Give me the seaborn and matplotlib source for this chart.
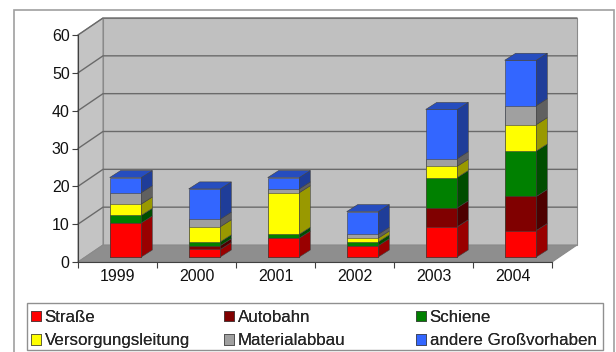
import numpy as np
import pandas as pd
import matplotlib
matplotlib.use("Agg")
import matplotlib.pyplot as plt
import seaborn as sns
from matplotlib.patches import Polygon, Patch, Rectangle
from matplotlib.colors import to_rgb

years = ['1999', '2000', '2001', '2002', '2003', '2004']
series_names = ['Straße', 'Autobahn', 'Schiene', 'Versorgungsleitung', 'Materialabbau', 'andere Großvorhaben']
strasse = [9, 2, 5, 3, 8, 7]
autobahn = [0, 1, 0, 0, 5, 9]
schiene = [2, 1, 1, 1, 8, 12]
versorgung = [3, 4, 11, 1, 3, 7]
material = [3, 2, 1, 1, 2, 5]
andere = [4, 8, 3, 6, 13, 12]
yticks = [0, 10, 20, 30, 40, 50, 60]

values = [strasse, autobahn, schiene, versorgung, material, andere]
colors = ['#ff0000', '#800000', '#008000', '#ffff00', '#a0a0a0', '#3366ff']

sns.set_theme(style='white')
plt.rcParams['font.family'] = ['Liberation Sans', 'DejaVu Sans']

W, H, DPI = 616, 352, 100
fig = plt.figure(figsize=(W / DPI, H / DPI), dpi=DPI)
ax_l, ax_r, ax_b, ax_t = 78, 552, 262, 35
ax = fig.add_axes([ax_l / W, (H - ax_b) / H, (ax_r - ax_l) / W, (ax_b - ax_t) / H])
ax.set_xlim(-0.5, 5.5)
ax.set_ylim(0, 60)
px_x = (ax_r - ax_l) / 6.0
px_y = (ax_b - ax_t) / 60.0

# outer chart frame
fig.patches.append(Rectangle((14 / W, -0.05), 600 / W, (H - 10) / H + 0.05, transform=fig.transFigure,
                             fill=False, edgecolor='#a0a0a0', linewidth=1.2))

# 3D walls
Dx, Dy = 25 / px_x, 17 / px_y
x0, x1 = -0.5, 5.5
back = Polygon([(x0 + Dx, Dy), (x1 + Dx, Dy), (x1 + Dx, 60 + Dy), (x0 + Dx, 60 + Dy)],
               closed=True, facecolor='#c0c0c0', edgecolor='#8a8a8a', linewidth=0.8, clip_on=False, zorder=0)
left = Polygon([(x0, 0), (x0 + Dx, Dy), (x0 + Dx, 60 + Dy), (x0, 60)],
               closed=True, facecolor='#c4c4c4', edgecolor='#8a8a8a', linewidth=0.8, clip_on=False, zorder=0)
floor = Polygon([(x0, 0), (x1, 0), (x1 + Dx, Dy), (x0 + Dx, Dy)],
                closed=True, facecolor='#8e8e8e', edgecolor='#8a8a8a', linewidth=0.8, clip_on=False, zorder=0.1)
for p in (back, left, floor):
    ax.add_patch(p)
for yv in yticks[1:]:
    ax.plot([x0, x0 + Dx, x1 + Dx], [yv, yv + Dy, yv + Dy], color='#6a6a6a', linewidth=1.0,
            clip_on=False, zorder=0.5)

# stacked bars (front faces), drawn top-down from cumulative sums
cums = np.cumsum(np.array(values), axis=0)
bw = 0.4
ox, oy = 8 / px_x, 5 / px_y
bx, by = 11 / px_x, 7 / px_y
for k in range(len(values) - 1, -1, -1):
    df = pd.DataFrame({'year': years, 'value': cums[k]})
    n_before = len(ax.patches)
    sns.barplot(data=df, x='year', y='value', color=colors[k], width=bw, ax=ax,
                saturation=1, edgecolor='#404040', linewidth=0.4, zorder=2)
    for p in ax.patches[n_before:]:
        p.set_x(p.get_x() + ox)
        p.set_y(p.get_y() + oy)

def shade(c, f):
    r, g, b = to_rgb(c)
    return (r * f, g * f, b * f)

# side and top faces
for i in range(len(years)):
    xl = i - bw / 2 + ox
    xr = i + bw / 2 + ox
    for k in range(len(values)):
        lo = (cums[k - 1][i] if k > 0 else 0) + oy
        hi = cums[k][i] + oy
        if hi - lo <= 0:
            continue
        side = Polygon([(xr, lo), (xr + bx, lo + by), (xr + bx, hi + by), (xr, hi)], closed=True,
                       facecolor=shade(colors[k], 0.6), edgecolor='#404040', linewidth=0.4,
                       clip_on=False, zorder=2)
        ax.add_patch(side)
    top_k = max(k for k in range(len(values)) if values[k][i] > 0)
    ht = cums[-1][i] + oy
    top = Polygon([(xl, ht), (xr, ht), (xr + bx, ht + by), (xl + bx, ht + by)], closed=True,
                  facecolor=shade(colors[top_k], 0.75), edgecolor='#404040', linewidth=0.4,
                  clip_on=False, zorder=2)
    ax.add_patch(top)

# axes styling
for s in ['top', 'right']:
    ax.spines[s].set_visible(False)
ax.spines['left'].set_color('#404040')
ax.spines['bottom'].set_color('#404040')
ax.spines['left'].set_linewidth(0.8)
ax.spines['bottom'].set_linewidth(0.8)
ax.set_yticks(yticks)
ax.set_yticklabels([str(v) for v in yticks])
ax.set_xticks(range(len(years)))
ax.set_xticklabels(years)
ax.set_xticks(np.arange(-0.5, 6.0, 1.0), minor=True)
ax.tick_params(axis='x', which='major', length=0, pad=5, labelsize=11.5, labelcolor='#111111')
ax.tick_params(axis='x', which='minor', length=4, color='#404040', width=0.8, bottom=True)
ax.tick_params(axis='y', length=4, color='#404040', width=0.8, left=True, labelsize=11.5,
               labelcolor='#111111', pad=2)
ax.set_xlabel('')
ax.set_ylabel('')
ax.set_facecolor('none')

# legend: frame plus three columns
fig.patches.append(Rectangle((27 / W, 1 - 350 / H), 576 / W, 47 / H, transform=fig.transFigure,
                             fill=False, edgecolor='#909090', linewidth=1.0))
handles = [Patch(facecolor=c, edgecolor='#404040', linewidth=0.5) for c in colors]
col_x = [31, 224, 416]
for c in range(3):
    idx = [c, c + 3]
    lg = fig.legend([handles[i] for i in idx], [series_names[i] for i in idx],
                    loc='upper left', bbox_to_anchor=(col_x[c] / W, 1 - 310 / H),
                    fontsize=12.2, frameon=False, handlelength=0.6, handleheight=0.6,
                    handletextpad=0.2, borderpad=0, borderaxespad=0, labelspacing=0.5)
    fig.add_artist(lg)

fig.savefig('out.png', dpi=DPI, facecolor='white')
